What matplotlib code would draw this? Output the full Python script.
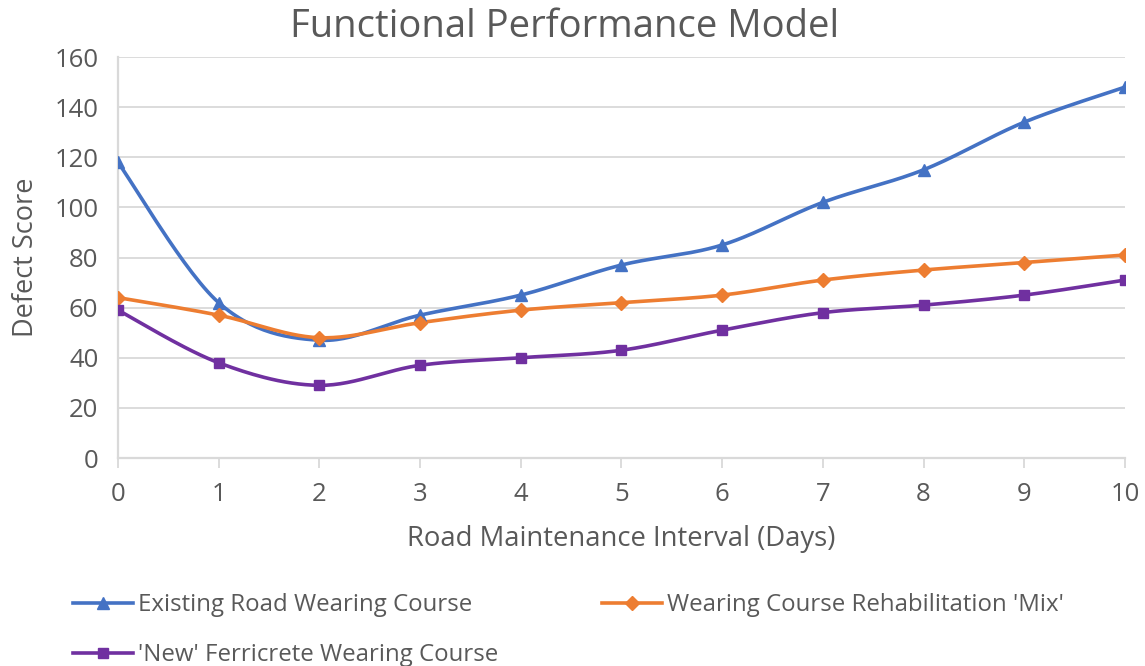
import numpy as np
import matplotlib
matplotlib.use("Agg")
import matplotlib.pyplot as plt
from matplotlib.lines import Line2D

plt.rcParams["font.family"] = ["Open Sans", "DejaVu Sans"]

days = list(range(0, 11))
existing = [118, 62, 47, 57, 65, 77, 85, 102, 115, 134, 148]
rehab_mix = [64, 57, 48, 54, 59, 62, 65, 71, 75, 78, 81]
ferricrete = [59, 38, 29, 37, 40, 43, 51, 58, 61, 65, 71]

series = [
    ("Existing Road Wearing Course", existing, "#4472C4", "^", 9),
    ("Wearing Course Rehabilitation 'Mix'", rehab_mix, "#ED7D31", "D", 7),
    ("'New' Ferricrete Wearing Course", ferricrete, "#7030A0", "s", 7),
]

GREY = "#595959"
GRID = "#D9D9D9"


def smooth(x, y, n=30):
    """Excel-style smoothed line (Catmull-Rom through points)"""
    x = np.asarray(x, float)
    y = np.asarray(y, float)
    px = np.concatenate([[x[0]], x, [x[-1]]])
    py = np.concatenate([[y[0]], y, [y[-1]]])
    xs, ys = [], []
    t = np.linspace(0, 1, n)
    for i in range(1, len(px) - 2):
        p0 = np.array([px[i], py[i]])
        p3 = np.array([px[i + 1], py[i + 1]])
        c1 = p0 + (np.array([px[i + 1], py[i + 1]]) - np.array([px[i - 1], py[i - 1]])) / 6
        c2 = p3 - (np.array([px[i + 2], py[i + 2]]) - np.array([px[i], py[i]])) / 6
        b = ((1 - t) ** 3)[:, None] * p0 + (3 * (1 - t) ** 2 * t)[:, None] * c1 \
            + (3 * (1 - t) * t ** 2)[:, None] * c2 + (t ** 3)[:, None] * p3
        xs.extend(b[:, 0])
        ys.extend(b[:, 1])
    return xs, ys


fig = plt.figure(figsize=(11.45, 6.66), dpi=100)
ax = fig.add_axes([0.103, 0.3123, 0.8795, 0.6021])

handles = []
for name, vals, color, marker, ms in series:
    sx, sy = smooth(days, vals)
    ax.plot(sx, sy, color=color, lw=2.6, zorder=3, solid_capstyle="round")
    ax.plot(days, vals, ls="none", marker=marker, ms=ms, color=color, zorder=4)
    handles.append(Line2D([0], [0], color=color, lw=2.6, marker=marker, ms=ms))

ax.set_xlim(0, 10)
ax.set_ylim(0, 160)
ax.set_xticks(days)
ax.set_yticks(range(0, 161, 20))
ax.yaxis.grid(True, color=GRID, lw=1.3)
ax.set_axisbelow(True)
for s in ["top", "right"]:
    ax.spines[s].set_visible(False)
for s in ["left", "bottom"]:
    ax.spines[s].set_color(GRID)
    ax.spines[s].set_linewidth(1.6)
ax.tick_params(axis="x", colors=GREY, labelsize=18.5, length=7, width=1.3,
               color=GRID, direction="out", pad=10)
ax.tick_params(axis="y", colors=GREY, labelsize=18.5, length=0, pad=14)
fig.text(0.493, 0.96, "Functional Performance Model", fontsize=27.5,
         color=GREY, ha="center", va="center")
ax.set_xlabel("Road Maintenance Interval (Days)", fontsize=19.8, color=GREY, labelpad=13)
ax.set_ylabel("Defect Score", fontsize=19.5, color=GREY, labelpad=10)

fig.legend(handles[:2], [s[0] for s in series[:2]], loc="center left",
           bbox_to_anchor=(0.045, 0.091), ncol=2, frameon=False,
           fontsize=17.3, labelcolor=GREY, handlelength=2.5,
           handletextpad=0.2, columnspacing=5.4)
fig.legend(handles[2:], [series[2][0]], loc="center left",
           bbox_to_anchor=(0.045, 0.016), frameon=False, fontsize=17.3,
           labelcolor=GREY, handlelength=2.5, handletextpad=0.2)

fig.savefig("out.png", dpi=100)
